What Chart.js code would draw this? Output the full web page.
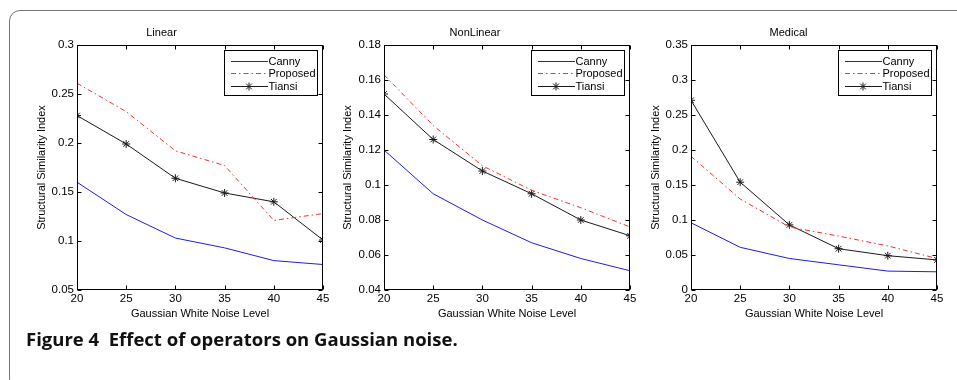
<!DOCTYPE html>
<html>
<head>
<meta charset="utf-8">
<script src="https://cdn.jsdelivr.net/npm/chart.js@4.4.1/dist/chart.umd.min.js"></script>
<style>
  html, body { margin: 0; padding: 0; background: #fff; }
  body { width: 957px; height: 380px; position: relative; overflow: hidden; }
  #frame { position: absolute; left: 9px; top: 10px; width: 1000px; height: 380px;
           border: 1.5px solid #777; border-radius: 11px; box-sizing: border-box; }
  .pane { position: absolute; top: 0; height: 330px; }
  canvas { display: block; }
  #caption { position: absolute; left: 26px; top: 326px; white-space: pre;
             font-family: "Open Sans", "DejaVu Sans", sans-serif; font-weight: bold;
             font-size: 18.5px; color: #111; }
</style>
</head>
<body>
<div id="frame"></div>
<div class="pane" style="left:0px;width:330px"><canvas id="c1" width="330" height="330"></canvas></div>
<div class="pane" style="left:320px;width:317px"><canvas id="c2" width="317" height="330"></canvas></div>
<div class="pane" style="left:640px;width:304px"><canvas id="c3" width="304" height="330"></canvas></div>
<div id="caption">Figure 4  Effect of operators on Gaussian noise.</div>
<script>
// ---- data ----
const noiseLevels = [20, 25, 30, 35, 40, 45];
const seriesNames = ["Canny", "Proposed", "Tiansi"];
const panelTitles = ["Linear", "NonLinear", "Medical"];

const linearCanny    = [0.160, 0.127, 0.103, 0.093, 0.080, 0.076];
const linearProposed = [0.261, 0.232, 0.192, 0.177, 0.121, 0.128];
const linearTiansi   = [0.228, 0.199, 0.164, 0.149, 0.140, 0.101];

const nonlinCanny    = [0.120, 0.095, 0.080, 0.067, 0.058, 0.051];
const nonlinProposed = [0.163, 0.134, 0.111, 0.097, 0.087, 0.076];
const nonlinTiansi   = [0.152, 0.126, 0.108, 0.095, 0.080, 0.071];

const medicalCanny    = [0.096, 0.061, 0.045, 0.036, 0.027, 0.026];
const medicalProposed = [0.191, 0.130, 0.090, 0.077, 0.063, 0.045];
const medicalTiansi   = [0.271, 0.154, 0.093, 0.059, 0.049, 0.043];

const linearYTicks  = [0.05, 0.1, 0.15, 0.2, 0.25, 0.3];
const nonlinYTicks  = [0.04, 0.06, 0.08, 0.1, 0.12, 0.14, 0.16, 0.18];
const medicalYTicks = [0, 0.05, 0.1, 0.15, 0.2, 0.25, 0.3, 0.35];

const xAxisTitle = "Gaussian White Noise Level";
const yAxisTitle = "Structural Similarity Index";

// ---- styling ----
const FONT = "'Liberation Sans', Arial, Helvetica, sans-serif";
const lineColors = ["#1a1aff", "#ff2a2a", "#1a1a1a"];
const lineDashes = [[], [5, 3, 1.5, 3], []];
const markers = [false, false, "star"];

function pts(arr) { return noiseLevels.map((x, i) => ({ x: x, y: arr[i] })); }

function legendSample(ctx, x0, x1, y, color, dash) {
  ctx.save();
  ctx.fillStyle = color;
  if (!dash.length) {
    ctx.fillRect(x0, y, x1 - x0, 1);
  } else {
    let x = x0, k = 0;
    while (x < x1) {
      const len = dash[k % dash.length];
      if (k % 2 === 0) ctx.fillRect(x, y, Math.min(len, x1 - x), 1);
      x += len; k++;
    }
  }
  ctx.restore();
}

const boxPlugin = {
  id: "boxTicks",
  afterDraw(chart) {
    const ctx = chart.ctx, a = chart.chartArea, scales = chart.scales;
    ctx.save();
    ctx.strokeStyle = "#000";
    ctx.lineWidth = 1;
    const L = Math.round(a.left) + 0.5, R = Math.round(a.right) - 0.5,
          T = Math.round(a.top) + 0.5, B = Math.round(a.bottom) - 0.5;
    ctx.strokeRect(L, T, R - L, B - T);
    const tl = 4;
    ctx.beginPath();
    scales.x.ticks.forEach(t => {
      const px = Math.round(scales.x.getPixelForValue(t.value)) + 0.5;
      ctx.moveTo(px, B); ctx.lineTo(px, B - tl);
      ctx.moveTo(px, T); ctx.lineTo(px, T + tl);
    });
    scales.y.ticks.forEach(t => {
      const py = Math.round(scales.y.getPixelForValue(t.value)) + 0.5;
      ctx.moveTo(L, py); ctx.lineTo(L + tl, py);
      ctx.moveTo(R, py); ctx.lineTo(R - tl, py);
    });
    ctx.stroke();
    ctx.restore();

    // legend box inside top-right
    ctx.save();
    ctx.font = "11px " + FONT;
    let maxW = 0;
    seriesNames.forEach(n => { maxW = Math.max(maxW, ctx.measureText(n).width); });
    const bw = Math.round(44 + maxW + 2), bh = 45;
    const bx = Math.round(a.right) - 6 - bw + 0.5, by = Math.round(a.top) + 5 + 0.5;
    ctx.fillStyle = "#ffffff";
    ctx.fillRect(bx, by, bw, bh);
    ctx.strokeStyle = "#000000";
    ctx.lineWidth = 1;
    ctx.strokeRect(bx, by, bw, bh);
    for (let i = 0; i < seriesNames.length; i++) {
      const yRow = Math.round(by + 10 + i * 12.8);
      legendSample(ctx, Math.round(bx + 6), Math.round(bx + 43), yRow, lineColors[i], lineDashes[i]);
      if (markers[i]) {
        ctx.save();
        ctx.strokeStyle = lineColors[i];
        ctx.fillStyle = lineColors[i];
        ctx.lineWidth = 1;
        Chart.helpers.drawPoint(ctx, { pointStyle: markers[i], radius: 4, borderWidth: 1 }, bx + 24.5, yRow + 0.5);
        ctx.restore();
      }
      ctx.save();
      ctx.fillStyle = "#000";
      ctx.textBaseline = "middle";
      ctx.textAlign = "left";
      ctx.fillText(seriesNames[i], bx + 44, yRow + 0.5);
      ctx.restore();
    }
    ctx.restore();
  }
};

function makeChart(id, title, series, yTicks, yWidth, yTitleX) {
  const datasets = series.map((arr, i) => ({
    label: seriesNames[i],
    data: pts(arr),
    borderColor: lineColors[i],
    backgroundColor: lineColors[i],
    borderDash: lineDashes[i],
    borderWidth: 1,
    pointStyle: markers[i],
    pointRadius: markers[i] ? 4 : 0,
    pointBorderWidth: 1,
    pointBorderColor: lineColors[i],
    tension: 0
  }));
  return new Chart(document.getElementById(id), {
    type: "line",
    data: { datasets },
    options: {
      responsive: false,
      animation: false,
      devicePixelRatio: 1,
      layout: { padding: { left: 0, right: 7, top: 0, bottom: 0 } },
      plugins: {
        legend: { display: false },
        tooltip: { enabled: false },
        title: { display: true, text: title, color: "#000",
                 font: { family: FONT, size: 11, weight: "normal" },
                 padding: { top: 25.9, bottom: 5.9 } }
      },
      scales: {
        x: {
          type: "linear",
          min: noiseLevels[0], max: noiseLevels[noiseLevels.length - 1],
          afterBuildTicks: s => { s.ticks = noiseLevels.map(v => ({ value: v })); },
          ticks: { color: "#000", font: { family: FONT, size: 11.5 }, padding: 1.5, maxRotation: 0,
                   callback: v => String(v) },
          grid: { display: false, drawTicks: false },
          border: { display: false },
          title: { display: true, text: xAxisTitle, color: "#000",
                   font: { family: FONT, size: 11 }, padding: { top: 0, bottom: 9.8 } },
          afterFit: s => { s.height = 40; s.paddingLeft = 0; s.paddingRight = 0; }
        },
        y: {
          type: "linear",
          min: yTicks[0], max: yTicks[yTicks.length - 1],
          afterBuildTicks: s => { s.ticks = yTicks.map(v => ({ value: v })); },
          ticks: { color: "#000", font: { family: FONT, size: 11.5 }, padding: 3,
                   callback: v => String(+(+v).toFixed(4)) },
          grid: { display: false, drawTicks: false },
          border: { display: false },
          title: { display: true, text: yAxisTitle, color: "#000",
                   font: { family: FONT, size: 11 }, padding: { top: yTitleX - 6.6, bottom: 0 } },
          afterFit: s => { s.width = yWidth; s.paddingTop = 0; s.paddingBottom = 0; }
        }
      }
    },
    plugins: [boxPlugin]
  });
}

makeChart("c1", panelTitles[0], [linearCanny, linearProposed, linearTiansi], linearYTicks, 77, 42);
makeChart("c2", panelTitles[1], [nonlinCanny, nonlinProposed, nonlinTiansi], nonlinYTicks, 64, 28);
makeChart("c3", panelTitles[2], [medicalCanny, medicalProposed, medicalTiansi], medicalYTicks, 51, 16);
</script>
</body>
</html>
